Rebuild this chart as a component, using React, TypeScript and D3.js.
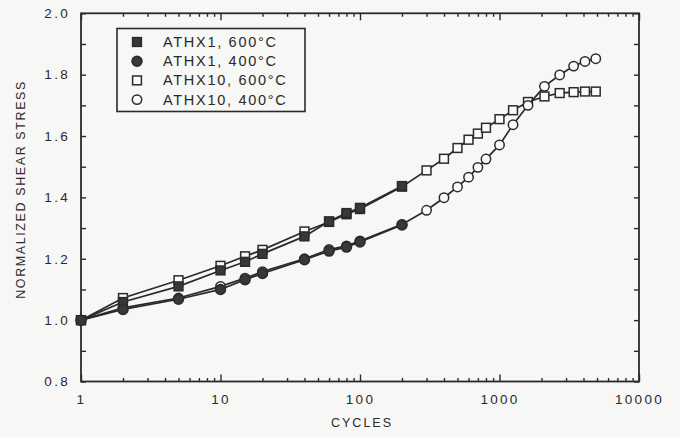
import React, { useRef, useEffect } from 'react';
import * as d3 from 'd3';

// cycles (x) and normalized shear stress (y)
const cyclesATHX1 = [1, 2, 5, 10, 15, 20, 40, 60, 80, 100, 200];
const athx1_600 = [1.0, 1.059, 1.11, 1.162, 1.19, 1.216, 1.273, 1.322, 1.349, 1.366, 1.437];
const athx1_400 = [1.0, 1.035, 1.068, 1.1, 1.132, 1.152, 1.197, 1.225, 1.238, 1.255, 1.31];

const cyclesATHX10 = [1, 2, 5, 10, 15, 20, 40, 60, 80, 100, 200, 300, 400, 500, 600, 700, 800, 1000, 1250, 1600, 2100, 2700, 3400, 4100, 4900];
const athx10_600 = [1.0, 1.072, 1.13, 1.177, 1.208, 1.229, 1.289, 1.32, 1.345, 1.362, 1.435, 1.488, 1.526, 1.561, 1.588, 1.608, 1.627, 1.655, 1.684, 1.711, 1.729, 1.74, 1.743, 1.745, 1.745];
const athx10_400 = [1.0, 1.04, 1.072, 1.11, 1.137, 1.158, 1.2, 1.23, 1.242, 1.258, 1.312, 1.358, 1.399, 1.434, 1.466, 1.498, 1.525, 1.571, 1.637, 1.7, 1.762, 1.799, 1.828, 1.843, 1.852];

const legendLabels = ['ATHX1, 600°C', 'ATHX1, 400°C', 'ATHX10, 600°C', 'ATHX10, 400°C'];
const xTickLabels = ['1', '10', '100', '1000', '10000'];
const yTickLabels = ['0.8', '1.0', '1.2', '1.4', '1.6', '1.8', '2.0'];

const INK = '#2a2a2a';
const FONT = '"Liberation Sans", Arial, sans-serif';

const App = () => {
  const ref = useRef<SVGSVGElement>(null);

  useEffect(() => {
    const svg = d3.select(ref.current);
    svg.selectAll('*').remove();

    const W = 680, H = 437;
    const left = 81, right = 639, top = 13.3, bottom = 381.5;

    svg.append('rect').attr('width', W).attr('height', H).attr('fill', '#f7f7f5');

    const x = d3.scaleLog().domain([1, 10000]).range([left, right]);
    const y = d3.scaleLinear().domain([0.8, 2.0]).range([bottom, top]);

    const majorX = xTickLabels.map(Number);
    const minorX = x.ticks().filter(v => !majorX.includes(v));
    const yTicks = d3.range(8, 21).map(v => v / 10);

    const styleAxis = (g: any) => {
      g.select('.domain').remove();
      g.selectAll('line').attr('stroke', INK).attr('stroke-width', 1.4);
      g.selectAll('text')
        .attr('fill', INK)
        .style('font-family', FONT)
        .style('font-size', '13.5px')
        .style('letter-spacing', '2.3px');
    };

    // x axes (bottom with labels, top without), ticks pointing inward
    svg.append('g').attr('transform', `translate(0,${bottom})`)
      .call(d3.axisBottom(x).tickValues(majorX).tickSizeInner(-7).tickSizeOuter(0).tickPadding(13).tickFormat((d: any) => String(d)))
      .call(styleAxis);
    svg.append('g').attr('transform', `translate(0,${bottom})`)
      .call(d3.axisBottom(x).tickValues(minorX).tickSizeInner(-3.5).tickSizeOuter(0).tickFormat(() => ''))
      .call(styleAxis);
    svg.append('g').attr('transform', `translate(0,${top})`)
      .call(d3.axisTop(x).tickValues(majorX).tickSizeInner(-7).tickSizeOuter(0).tickFormat(() => ''))
      .call(styleAxis);
    svg.append('g').attr('transform', `translate(0,${top})`)
      .call(d3.axisTop(x).tickValues(minorX).tickSizeInner(-3.5).tickSizeOuter(0).tickFormat(() => ''))
      .call(styleAxis);

    // y axes
    svg.append('g').attr('transform', `translate(${left},0)`)
      .call(d3.axisLeft(y).tickValues(yTicks).tickSizeInner(-5).tickSizeOuter(0).tickPadding(11)
        .tickFormat((d: any) => yTickLabels.includes(d3.format('.1f')(d)) ? d3.format('.1f')(d) : ''))
      .call(styleAxis);
    svg.append('g').attr('transform', `translate(${right},0)`)
      .call(d3.axisRight(y).tickValues(yTicks).tickSizeInner(-5).tickSizeOuter(0).tickFormat(() => ''))
      .call(styleAxis);

    // frame
    svg.append('rect')
      .attr('x', left).attr('y', top)
      .attr('width', right - left).attr('height', bottom - top)
      .attr('fill', 'none').attr('stroke', INK).attr('stroke-width', 1.8);

    // axis titles
    svg.append('text')
      .attr('x', (left + right) / 2 + 2).attr('y', 427)
      .attr('text-anchor', 'middle').attr('fill', INK)
      .style('font-family', FONT).style('font-size', '12.5px').style('letter-spacing', '2px')
      .text('CYCLES');
    svg.append('text')
      .attr('transform', `translate(25,${(top + bottom) / 2 - 8}) rotate(-90)`)
      .attr('text-anchor', 'middle').attr('fill', INK)
      .style('font-family', FONT).style('font-size', '12.5px').style('letter-spacing', '1.6px')
      .text('NORMALIZED SHEAR STRESS');

    const line = d3.line<[number, number]>().x(d => x(d[0])).y(d => y(d[1]));

    const series = [
      { xs: cyclesATHX10, ys: athx10_600, shape: 'square', filled: false },
      { xs: cyclesATHX10, ys: athx10_400, shape: 'circle', filled: false },
      { xs: cyclesATHX1, ys: athx1_600, shape: 'square', filled: true },
      { xs: cyclesATHX1, ys: athx1_400, shape: 'circle', filled: true },
    ];

    const drawMarker = (g: any, shape: string, filled: boolean, cx: number, cy: number) => {
      if (shape === 'square') {
        g.append('rect')
          .attr('x', cx - 4.4).attr('y', cy - 4.4).attr('width', 8.8).attr('height', 8.8)
          .attr('fill', filled ? '#383838' : '#fbfbfb')
          .attr('stroke', INK).attr('stroke-width', 1.5);
      } else {
        g.append('circle')
          .attr('cx', cx).attr('cy', cy).attr('r', filled ? 5 : 4.7)
          .attr('fill', filled ? '#383838' : '#fbfbfb')
          .attr('stroke', INK).attr('stroke-width', 1.5);
      }
    };

    series.forEach(s => {
      const pts = s.xs.map((c, i) => [c, s.ys[i]] as [number, number]);
      const g = svg.append('g');
      g.append('path').attr('d', line(pts)).attr('fill', 'none')
        .attr('stroke', INK).attr('stroke-width', 1.7);
      pts.forEach(p => drawMarker(g, s.shape, s.filled, x(p[0]), y(p[1])));
    });

    // legend
    const lg = svg.append('g');
    lg.append('rect')
      .attr('x', 117).attr('y', 28.5).attr('width', 188).attr('height', 83)
      .attr('fill', 'none').attr('stroke', INK).attr('stroke-width', 1.6);
    const legendOrder = [series[2], series[3], series[0], series[1]];
    legendLabels.forEach((label, i) => {
      const ry = 42 + i * 19.2;
      drawMarker(lg, legendOrder[i].shape, legendOrder[i].filled, 137, ry);
      lg.append('text')
        .attr('x', 163).attr('y', ry + 5).attr('fill', INK)
        .style('font-family', FONT).style('font-size', '14.5px').style('letter-spacing', '1.7px')
        .text(label);
    });
  }, []);

  return (
    <div style={{ position: 'fixed', left: 0, top: 0 }}>
      <svg ref={ref} width={680} height={437} style={{ display: 'block' }} />
    </div>
  );
};

export default App;
